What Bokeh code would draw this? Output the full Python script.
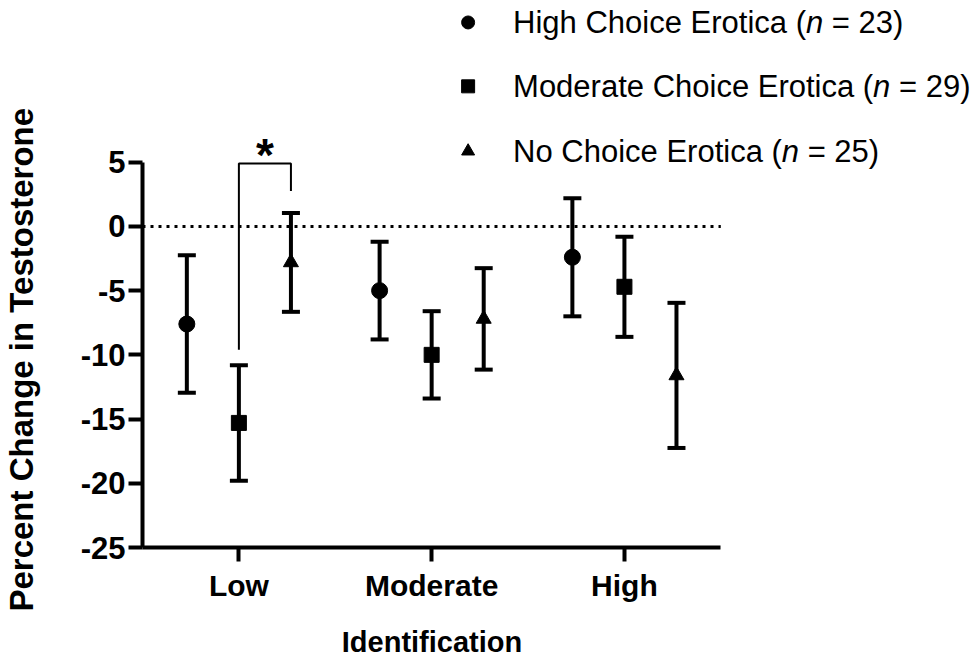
import numpy as np
from bokeh.plotting import figure
from bokeh.models import Range1d, FixedTicker, ColumnDataSource, Whisker, TeeHead, Title
from bokeh.core.properties import value
from bokeh.embed import file_html
from bokeh.resources import INLINE

# ---- data -------------------------------------------------------------
categories = ["Low", "Moderate", "High"]
series_names = ["High Choice Erotica", "Moderate Choice Erotica", "No Choice Erotica"]
series_n = [23, 29, 25]

high_choice_mean = [-7.6, -5.0, -2.4]
high_choice_sem = [5.35, 3.8, 4.6]
moderate_choice_mean = [-15.3, -10.0, -4.7]
moderate_choice_sem = [4.5, 3.4, 3.9]
no_choice_mean = [-2.8, -7.2, -11.6]
no_choice_sem = [3.85, 3.95, 5.65]

y_ticks = [-25, -20, -15, -10, -5, 0, 5]

# ---- layout -----------------------------------------------------------
W, H = 979, 657
FRAME_L, FRAME_B = 141, 548      # left / bottom edge of the axes, px
X_PX = 193.0                     # px per category slot
Y_PX = 386.0 / 30.0              # px per percentage point
FONT = "Liberation Sans"

x_range = Range1d(0, (W - FRAME_L) / X_PX)
y_range = Range1d(-25, -25 + FRAME_B / Y_PX)

ARIAL_W = {"H": 722, "i": 222, "g": 556, "h": 556, " ": 278, "\u00a0": 278,
           "C": 722, "o": 556, "c": 500, "e": 556, "E": 667, "r": 333,
           "t": 278, "a": 556, "(": 333, "M": 833, "d": 556, "N": 722,
           ")": 333, "=": 584, "n": 556}
ARIAL_BOLD_W = {"P": 667, "e": 556, "r": 389, "c": 556, "n": 611, "t": 333,
                " ": 278, "C": 722, "h": 611, "a": 556, "g": 611, "i": 278,
                "T": 611, "s": 556, "o": 611, "I": 278, "d": 611, "f": 333}
for d in "0123456789":
    ARIAL_W[d] = 556


def text_width(s, size, table=ARIAL_W):
    return sum(table.get(ch, 556) for ch in s) * size / 1000.0


def to_data(px, py):
    """Canvas pixel position -> data coordinates (for legend placement)."""
    return (px - FRAME_L) / X_PX, -25 + (FRAME_B - py) / Y_PX


p = figure(width=W, height=H, x_range=x_range, y_range=y_range,
           output_backend="svg", toolbar_location=None,
           min_border_left=FRAME_L, min_border_right=0,
           min_border_top=0, min_border_bottom=H - FRAME_B,
           outline_line_color=None, background_fill_color="white",
           border_fill_color="white")
p.grid.visible = False

cat_pos = [i + 0.5 for i in range(len(categories))]

for ax in (p.xaxis, p.yaxis):
    ax.axis_line_width = 4
    ax.axis_line_color = "black"
    ax.major_tick_line_width = 4
    ax.major_tick_line_color = "black"
    ax.major_tick_out = 14
    ax.major_tick_in = 0
    ax.minor_tick_out = 0
    ax.minor_tick_in = 0
    ax.major_label_text_font = FONT
    ax.major_label_text_font_style = "bold"
    ax.major_label_text_color = "black"
    # blank, tiny axis label: only keeps a gap between tick labels and title
    ax.axis_label = " "
    ax.axis_label_text_font_size = "1px"

p.xaxis.bounds = (0, 3)
p.xaxis.ticker = FixedTicker(ticks=cat_pos)
p.xaxis.major_label_overrides = {pos: c for pos, c in zip(cat_pos, categories)}
p.xaxis.major_label_text_font_size = "30px"
p.xaxis.major_label_standoff = 7
p.xaxis.axis_label_standoff = 15

p.yaxis.bounds = (-25, 5)
p.yaxis.ticker = FixedTicker(ticks=y_ticks)
p.yaxis.major_label_overrides = {t: str(t) for t in y_ticks}
p.yaxis.major_label_text_font_size = "31px"
p.yaxis.major_label_standoff = 3
p.yaxis.axis_label_standoff = 34

# axis titles, centred on the drawn axis extent
axis_mid_x = FRAME_L + 1.5 * X_PX
axis_mid_y = FRAME_B - 15 * Y_PX + 4
y_title = "Percent Change in Testosterone"
x_title = "Identification"
p.add_layout(Title(text=y_title, align="left",
                   offset=(FRAME_B - axis_mid_y) - text_width(y_title, 33, ARIAL_BOLD_W) / 2,
                   standoff=0,
                   text_font=FONT, text_font_style="bold",
                   text_font_size="33px", text_color="black"), "left")
p.add_layout(Title(text=x_title, align="left",
                   offset=(axis_mid_x - FRAME_L) - text_width(x_title, 29, ARIAL_BOLD_W) / 2,
                   standoff=0,
                   text_font=FONT, text_font_style="bold",
                   text_font_size="29px", text_color="black"), "below")

# dotted reference line at zero
p.line([0, 3], [0, 0], line_color="black", line_width=3, line_dash="3 5")

# ---- series with SEM error bars ---------------------------------------
means = [high_choice_mean, moderate_choice_mean, no_choice_mean]
sems = [high_choice_sem, moderate_choice_sem, no_choice_sem]
markers = ["circle", "square", "triangle"]
sizes = [16, 15, 15]
offsets = [-0.27, 0.0, 0.27]

xs_by_series = []
for mean, sem, mk, sz, off in zip(means, sems, markers, sizes, offsets):
    xs = [c + off for c in cat_pos]
    xs_by_series.append(xs)
    src = ColumnDataSource(dict(
        x=xs, mean=mean,
        upper=[m + s for m, s in zip(mean, sem)],
        lower=[m - s for m, s in zip(mean, sem)],
    ))
    p.add_layout(Whisker(
        base="x", upper="upper", lower="lower", source=src, dimension="height",
        line_color="black", line_width=4,
        upper_head=TeeHead(size=18, line_width=4, line_color="black"),
        lower_head=TeeHead(size=18, line_width=4, line_color="black"),
    ))
    p.scatter("x", "mean", source=src, marker=mk, size=sz,
              fill_color="black", line_color="black")

# ---- significance bracket (Low: moderate vs no choice) ----------------
bx0 = xs_by_series[1][0]
bx1 = xs_by_series[2][0]
p.line([bx0, bx0, bx1, bx1], [-9.6, 4.9, 4.9, 2.75],
       line_color="black", line_width=2)
p.text(x=[(bx0 + bx1) / 2], y=[4.9], text=["*"],
       text_font=value(FONT), text_font_style="bold",
       text_font_size=value("46px"), text_align="center",
       text_baseline="alphabetic", y_offset=-8, text_color="black")

# ---- legend -----------------------------------------------------------
LEG_SIZE = 31
row_py = [22, 86, 151]
mx, _ = to_data(467, 0)
tx, _ = to_data(512, 0)
row_y = [to_data(0, py)[1] for py in row_py]

for mk, yy in zip(markers, row_y):
    p.scatter([mx], [yy], marker=mk, size=13,
              fill_color="black", line_color="black")

prefixes = [f"{name} (" for name in series_names]
suffixes = [f"\u00a0=\u00a0{n})" for n in series_n]
n_off = [text_width(s, LEG_SIZE) for s in prefixes]
suf_off = [o + text_width("n", LEG_SIZE) for o in n_off]

common = dict(text_font=value(FONT), text_font_size=value(f"{LEG_SIZE}px"),
              text_align="left", text_baseline="middle", text_color="black")
p.text(x=[tx] * 3, y=row_y, text=prefixes, **common)
p.text(x=[tx] * 3, y=row_y, text=["n"] * 3, x_offset=n_off,
       text_font_style="italic", **common)
p.text(x=[tx] * 3, y=row_y, text=suffixes, x_offset=suf_off, **common)

open("out.html", "w").write(file_html(p, INLINE))
